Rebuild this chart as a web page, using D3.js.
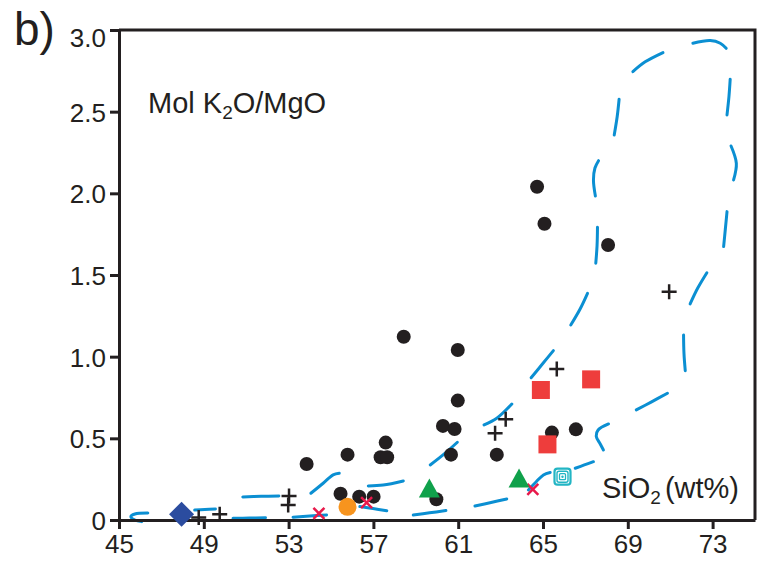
<!DOCTYPE html>
<html>
<head>
<meta charset="utf-8">
<script src="https://cdn.jsdelivr.net/npm/d3@7"></script>
<style>
  html, body { margin: 0; padding: 0; background: #fff; }
  svg { display: block; font-family: "Liberation Sans", Arial, Helvetica, sans-serif; }
</style>
</head>
<body>
<svg id="chart" width="767" height="562"></svg>
<script>
// SiO2 (wt%) vs molar K2O/MgO
const xTicks = [45, 49, 53, 57, 61, 65, 69, 73];
const yTicks = [0, 0.5, 1.0, 1.5, 2.0, 2.5, 3.0];
const yTickLabels = ["0", "0.5", "1.0", "1.5", "2.0", "2.5", "3.0"];

// black filled circles
const dotSiO2  = [64.72, 65.07, 68.07, 58.43, 60.98, 60.98, 60.28, 60.83, 60.66, 57.58, 57.34,
                  57.65, 55.78, 53.85, 55.45, 56.33, 57.01, 59.97, 62.82, 65.42, 66.55];
const dotRatio = [2.04, 1.814, 1.684, 1.122, 1.041, 0.731, 0.576, 0.557, 0.40, 0.474, 0.384,
                  0.384, 0.40, 0.343, 0.161, 0.143, 0.143, 0.127, 0.40, 0.535, 0.555];
// black crosses
const plusSiO2  = [70.95, 65.65, 63.24, 62.74, 53.02, 52.98, 49.75, 48.76];
const plusRatio = [1.398, 0.925, 0.617, 0.531, 0.147, 0.092, 0.035, 0.016];
// red x marks
const xMarkSiO2  = [54.43, 56.68, 64.52];
const xMarkRatio = [0.041, 0.106, 0.188];
// red squares
const squareSiO2  = [64.9, 67.27, 65.21];
const squareRatio = [0.796, 0.861, 0.463];
// green triangles
const triSiO2  = [59.64, 63.87];
const triRatio = [0.177, 0.239];
// orange circle
const orangeSiO2  = [55.78];
const orangeRatio = [0.081];
// blue diamond
const diamondSiO2  = [47.95];
const diamondRatio = [0.035];
// cyan concentric square
const ringSiO2  = [65.92];
const ringRatio = [0.265];

// dashed field boundary, one array of [SiO2, ratio] per dash
const fieldDashes = [
  [[46.36, 0.043], [45.75, 0.037], [45.56, 0.021], [45.75, 0.0], [46.07, -0.01]],
  [[48.57, 0.061], [49.05, 0.065], [49.55, 0.067]],
  [[50.84, 0.141], [51.7, 0.145], [52.54, 0.147]],
  [[54.05, 0.164], [54.63, 0.225], [55.1, 0.276], [55.39, 0.286]],
  [[56.76, 0.208], [57.46, 0.214], [58.41, 0.239]],
  [[59.68, 0.337], [60.3, 0.4], [60.96, 0.476]],
  [[62.22, 0.582], [62.82, 0.623], [63.53, 0.710]],
  [[64.44, 0.871], [65.01, 0.961], [65.49, 1.037]],
  [[66.31, 1.194], [66.75, 1.292], [67.10, 1.388]],
  [[67.49, 1.572], [67.55, 1.68], [67.57, 1.792]],
  [[67.47, 1.984], [67.38, 2.082], [67.45, 2.155], [67.62, 2.2]],
  [[68.36, 2.357], [68.5, 2.47], [68.59, 2.576]],
  [[69.24, 2.745], [69.82, 2.805], [70.66, 2.862]],
  [[72.07, 2.919], [72.89, 2.935], [73.36, 2.919], [73.64, 2.888]],
  [[73.83, 2.699], [73.77, 2.59], [73.68, 2.48]],
  [[73.87, 2.29], [74.12, 2.184], [73.99, 2.082]],
  [[73.68, 1.888], [73.6, 1.78], [73.52, 1.674]],
  [[72.73, 1.514], [72.3, 1.42], [71.94, 1.323]],
  [[71.63, 1.133], [71.65, 1.02], [71.71, 0.914]],
  [[70.87, 0.776], [70.1, 0.722], [69.40, 0.674]],
  [[68.09, 0.588], [67.6, 0.551], [67.51, 0.514], [67.70, 0.465], [67.85, 0.429]],
  [[67.38, 0.357], [66.95, 0.337], [66.52, 0.317]],
  [[64.31, 0.184], [64.67, 0.233], [65.02, 0.276], [65.34, 0.291]],
  [[61.79, 0.086], [62.55, 0.107], [63.29, 0.129]],
  [[58.88, 0.031], [59.65, 0.044], [60.42, 0.058]],
  [[56.36, 0.082], [56.98, 0.070], [57.63, 0.057]],
  [[53.21, 0.017], [54.0, 0.024], [54.79, 0.031]],
  [[50.38, 0.010], [51.15, 0.012], [51.91, 0.014]]
];

const ink = "#231f20";
const margin = { left: 119, right: 12, top: 30, bottom: 42 };
const W = 767, H = 562;

const svg = d3.select("#chart");
const x = d3.scaleLinear().domain([45, 75]).range([margin.left, W - margin.right]);
const y = d3.scaleLinear().domain([0, 3]).range([H - margin.bottom, margin.top]);

// frame (top and right)
svg.append("path")
  .attr("d", `M${x(45)},${y(3)}H${x(75)}V${y(0)}`)
  .attr("fill", "none").attr("stroke", ink).attr("stroke-width", 3);

// dashed field
const line = d3.line().x(d => x(d[0])).y(d => y(d[1])).curve(d3.curveCatmullRom);
svg.append("g").selectAll("path").data(fieldDashes).join("path")
  .attr("d", line)
  .attr("fill", "none").attr("stroke", "#0b8fd2").attr("stroke-width", 3)
  .attr("stroke-linecap", "round");

// axes
const xAxis = svg.append("g").attr("transform", `translate(0,${y(0)})`)
  .call(d3.axisBottom(x).tickValues(xTicks).tickSize(9).tickSizeOuter(0).tickPadding(5));
const yAxis = svg.append("g").attr("transform", `translate(${x(45)},0)`)
  .call(d3.axisLeft(y).tickValues(yTicks).tickFormat((d, i) => yTickLabels[i])
        .tickSize(9).tickSizeOuter(0).tickPadding(4));
[xAxis, yAxis].forEach(g => {
  g.select(".domain").attr("stroke", ink).attr("stroke-width", 3);
  g.selectAll(".tick line").attr("stroke", ink).attr("stroke-width", 3);
  g.selectAll(".tick text").attr("fill", ink).attr("font-size", 26)
    .attr("font-family", "Liberation Sans, Arial, sans-serif");
});
// top label sits just below the frame line
yAxis.selectAll(".tick text").attr("dy", d => d === 3 ? "0.62em" : "0.36em");
xAxis.selectAll(".tick text").attr("dy", "0.72em");

const marks = svg.append("g");
const pts = (xs, ys) => xs.map((v, i) => [v, ys[i]]);

// black dots
marks.selectAll(".dot").data(pts(dotSiO2, dotRatio)).join("circle")
  .attr("cx", d => x(d[0])).attr("cy", d => y(d[1])).attr("r", 7).attr("fill", ink);

// crosses
marks.selectAll(".plus").data(pts(plusSiO2, plusRatio)).join("path")
  .attr("d", d => { const cx = x(d[0]), cy = y(d[1]), s = 7.5;
    return `M${cx - s},${cy}H${cx + s}M${cx},${cy - s}V${cy + s}`; })
  .attr("stroke", ink).attr("stroke-width", 2.5).attr("fill", "none");

// x marks
marks.selectAll(".xmark").data(pts(xMarkSiO2, xMarkRatio)).join("path")
  .attr("d", d => { const cx = x(d[0]), cy = y(d[1]), s = 5.5;
    return `M${cx - s},${cy - s}L${cx + s},${cy + s}M${cx - s},${cy + s}L${cx + s},${cy - s}`; })
  .attr("stroke", "#e8194b").attr("stroke-width", 2.5).attr("fill", "none");

// red squares
marks.selectAll(".sq").data(pts(squareSiO2, squareRatio)).join("rect")
  .attr("x", d => x(d[0]) - 9).attr("y", d => y(d[1]) - 9)
  .attr("width", 18).attr("height", 18).attr("fill", "#ee3d3c");

// green triangles
marks.selectAll(".tri").data(pts(triSiO2, triRatio)).join("path")
  .attr("d", d => { const cx = x(d[0]), cy = y(d[1]);
    return `M${cx},${cy - 12.5}L${cx + 10.5},${cy + 6.5}L${cx - 10.5},${cy + 6.5}Z`; })
  .attr("fill", "#10a14b");

// orange circle
marks.selectAll(".orange").data(pts(orangeSiO2, orangeRatio)).join("circle")
  .attr("cx", d => x(d[0])).attr("cy", d => y(d[1])).attr("r", 9).attr("fill", "#f7941e");

// blue diamond
marks.selectAll(".diamond").data(pts(diamondSiO2, diamondRatio)).join("path")
  .attr("d", d => { const cx = x(d[0]), cy = y(d[1]), s = 12.5;
    return `M${cx},${cy - s}L${cx + s},${cy}L${cx},${cy + s}L${cx - s},${cy}Z`; })
  .attr("fill", "#2b4c9f");

// cyan concentric square
const ring = marks.selectAll(".ring").data(pts(ringSiO2, ringRatio)).join("g")
  .attr("transform", d => `translate(${x(d[0])},${y(d[1])})`);
[[16, 2.2, 3], [11, 1.4, 2], [6, 1.3, 1]].forEach(([s, w, r]) => {
  ring.append("rect").attr("x", -s / 2).attr("y", -s / 2).attr("width", s).attr("height", s)
    .attr("rx", r).attr("fill", "#fff").attr("stroke", "#22b5c4").attr("stroke-width", w);
});
ring.append("circle").attr("r", 1.2).attr("fill", "#22b5c4");

// labels
svg.append("text").attr("x", 14).attr("y", 45).attr("font-size", 46).attr("fill", ink).text("b)");

const yLabel = svg.append("text").attr("x", 148).attr("y", 113).attr("font-size", 29).attr("fill", ink);
yLabel.append("tspan").text("Mol K");
yLabel.append("tspan").attr("font-size", 19).attr("dy", 6).text("2");
yLabel.append("tspan").attr("dy", -6).text("O/MgO");

const xLabel = svg.append("text").attr("x", 602).attr("y", 498).attr("font-size", 29).attr("fill", ink);
xLabel.append("tspan").text("SiO");
xLabel.append("tspan").attr("font-size", 19).attr("dy", 6).text("2");
xLabel.append("tspan").attr("dy", -6).attr("dx", 4).text("(wt%)");
</script>
</body>
</html>
